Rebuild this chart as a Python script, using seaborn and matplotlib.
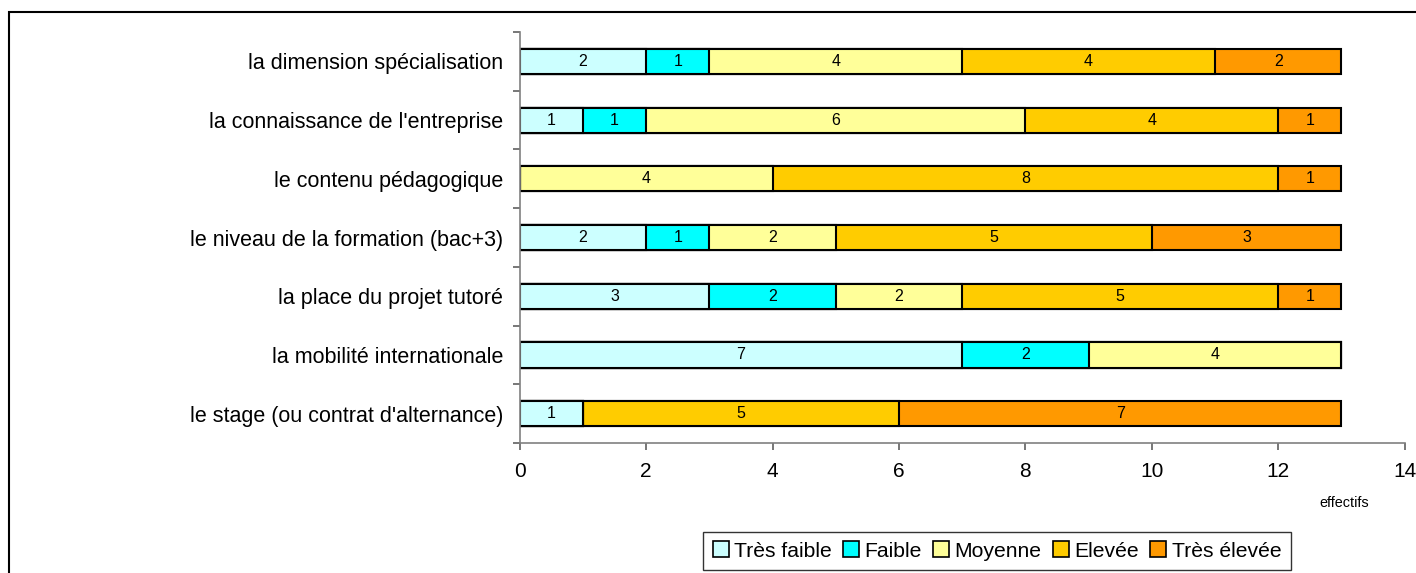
import matplotlib
matplotlib.use("Agg")
import matplotlib.pyplot as plt
import numpy as np
import pandas as pd
import seaborn as sns
from matplotlib.patches import Patch, Rectangle

# données
categories = [
    "la dimension spécialisation",
    "la connaissance de l'entreprise",
    "le contenu pédagogique",
    "le niveau de la formation (bac+3)",
    "la place du projet tutoré",
    "la mobilité internationale",
    "le stage (ou contrat d'alternance)",
]
niveaux = ["Très faible", "Faible", "Moyenne", "Elevée", "Très élevée"]
tres_faible = [2, 1, 0, 2, 3, 7, 1]
faible = [1, 1, 0, 1, 2, 2, 0]
moyenne = [4, 6, 4, 2, 2, 4, 0]
elevee = [4, 4, 8, 5, 5, 0, 5]
tres_elevee = [2, 1, 1, 3, 1, 0, 7]
couleurs = ["#CCFFFF", "#00FFFF", "#FFFF99", "#FFCC00", "#FF9900"]

sns.set_style("white")
plt.rcParams["font.family"] = ["Liberation Sans", "DejaVu Sans"]
plt.rcParams["text.color"] = "black"
plt.rcParams["xtick.labelcolor"] = "black"
plt.rcParams["ytick.labelcolor"] = "black"

valeurs = np.array([tres_faible, faible, moyenne, elevee, tres_elevee]).T
cumul = valeurs.cumsum(axis=1)

fig = plt.figure(figsize=(14.16, 5.73), dpi=100)
ax = fig.add_axes([0.367, 0.227, 0.625, 0.717])

# barres empilées : on trace les cumuls du plus long au plus court
for i in range(len(niveaux) - 1, -1, -1):
    df = pd.DataFrame({"cat": categories, "val": cumul[:, i]})
    sns.barplot(data=df, x="val", y="cat", orient="h", color=couleurs[i],
                saturation=1, edgecolor="black", linewidth=1.5, width=0.43,
                ax=ax)

# étiquettes des segments
for r in range(len(categories)):
    debut = 0
    for i in range(len(niveaux)):
        v = valeurs[r, i]
        if v > 0:
            ax.text(debut + v / 2, r, str(v), ha="center", va="center",
                    fontsize=11.5, color="black")
        debut += v

ax.set_xlim(0, 14)
ax.set_ylim(6.5, -0.5)
ax.set_xticks(range(0, 15, 2))
ax.set_xlabel("")
ax.set_ylabel("")
for s in ["top", "right"]:
    ax.spines[s].set_visible(False)
for s in ["left", "bottom"]:
    ax.spines[s].set_color("#808080")
    ax.spines[s].set_linewidth(1.2)

ax.tick_params(axis="x", labelsize=15, length=5, width=1.2,
               color="#606060", labelcolor="black", direction="out", pad=9,
               bottom=True)
ax.tick_params(axis="y", which="major", labelsize=15.5, length=0, pad=12,
               labelcolor="black")
ax.set_yticks(np.arange(-0.5, 7, 1), minor=True)
ax.tick_params(axis="y", which="minor", length=5, width=1.2,
               color="#606060", direction="out", left=True)

fig.text(1344 / 1416, 1 - 503 / 573, "effectifs", ha="center", va="center",
         fontsize=10.4, color="black")

poignees = [Patch(facecolor=c, edgecolor="black", linewidth=1.2)
            for c in couleurs]
leg = fig.legend(poignees, niveaux, ncol=5, loc="center",
                 bbox_to_anchor=(997 / 1416, 1 - 551 / 573), fontsize=15.2,
                 frameon=True, fancybox=False, handlelength=0.75,
                 handleheight=0.75, handletextpad=0.25, columnspacing=0.55,
                 borderpad=0.45, borderaxespad=0, edgecolor="black",
                 labelcolor="black")
leg.get_frame().set_linewidth(1.0)

# cadre extérieur
fig.add_artist(Rectangle((8.5 / 1416, -0.1), 1.2, 1 - 12 / 573 + 0.1,
                         transform=fig.transFigure, fill=False,
                         edgecolor="black", linewidth=1.5))

fig.savefig("out.png", dpi=100)
